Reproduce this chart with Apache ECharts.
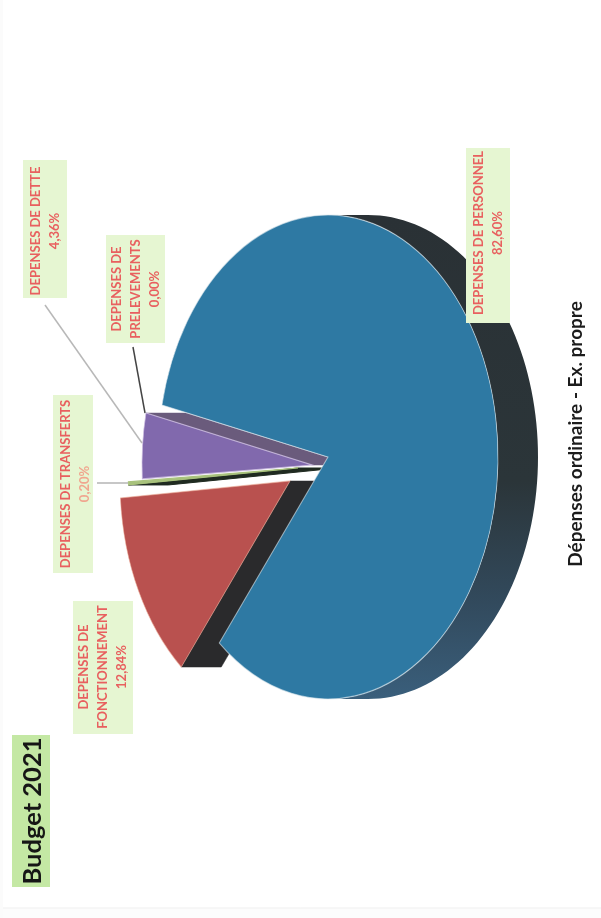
<!DOCTYPE html>
<html><head><meta charset="utf-8">
<style>html,body{margin:0;padding:0;background:#fff}#c{width:601px;height:918px}</style>
<script src="https://cdn.jsdelivr.net/npm/echarts@6/dist/echarts.min.js"></script>
</head><body><div id="c"></div>
<script>
const categories = ['DEPENSES DE PERSONNEL','DEPENSES DE FONCTIONNEMENT','DEPENSES DE TRANSFERTS','DEPENSES DE PRELEVEMENTS','DEPENSES DE DETTE'];
const percentLabels = ['82,60%','12,84%','0,20%','0,00%','4,36%'];
const values = [82.60,12.84,0.20,0.00,4.36];
const labelLines = [['DEPENSES DE PERSONNEL'],['DEPENSES DE','FONCTIONNEMENT'],['DEPENSES DE TRANSFERTS'],['DEPENSES DE','PRELEVEMENTS'],['DEPENSES DE DETTE']];
const chartTitle = 'Dépenses ordinaire - Ex. propre';
const badgeTitle = 'Budget 2021';

// style / layout
const colors = ['#2e79a3','#b9514f','#a8c27c','#6a5b7c','#8169ad'];
const wallColors = [null,'#2a2a2c','#1f2a20',null,'#6a5b7c'];
const explode = [[0,0],[-38,24],[-30,11],[-16,8],[-16,8]];
const CX=328, CY=457, RX=170, RY=242, DEPTH=40, START=192.4;
const boxes = [[466,148,44,175],[73,601,60,133],[53,395,40,178],[106,235,59,108],[23,160,44,138]];
const labelPos = [[488,233],[103,667],[75.5,484],[135.5,289],[45.5,231]];
const leaders = [[[97,483],[128,483],'#b4b4b4',1.5],[[133,347],[145,413],'#444',1.5],[[45,305],[142,443],'#b8b8b8',1.5]];

const rad=d=>d*Math.PI/180;
let cum=START;
const slices=values.map((v,i)=>{const a=cum; cum+=v*3.6; return {a,b:cum,dx:explode[i][0],dy:explode[i][1]};});

const depthFill={type:'linear',global:true,x:0,y:215,x2:0,y2:700,colorStops:[
 {offset:0,color:'#2a3135'},{offset:.55,color:'#2b3539'},{offset:.8,color:'#324a5d'},{offset:1,color:'#3a5f7c'}]};

function wallPoly(api,s,t){
  const x0=CX+s.dx,y0=CY+s.dy,ox=RX*Math.cos(rad(t)),oy=RY*Math.sin(rad(t));
  return [[x0,y0],[x0+ox,y0+oy],[x0+ox+DEPTH,y0+oy],[x0+DEPTH,y0]].map(p=>api.coord(p));
}
function renderWall(params,api){
  const i=api.value(0); const v=api.value(1); const s=slices[i];
  if(i===0){
    const pts=[];
    for(let t=270;t<=450;t+=2) pts.push(api.coord([CX+DEPTH+RX*Math.cos(rad(t)),CY+RY*Math.sin(rad(t))]));
    for(let t=450;t>=270;t-=2) pts.push(api.coord([CX+RX*Math.cos(rad(t)),CY+RY*Math.sin(rad(t))]));
    return {type:'polygon',shape:{points:pts},style:{fill:depthFill}};
  }
  if(v===0) return null;
  const t=i===4?s.b:s.a;
  return {type:'polygon',shape:{points:wallPoly(api,s,t)},
    style:{fill:wallColors[i],stroke:wallColors[i],lineWidth:i===2?1:0.5}};
}
function renderTop(params,api){
  const i=api.value(0); const v=api.value(1); const s=slices[i];
  if(v===0) return null;
  const c=api.coord([CX+s.dx,CY+s.dy]);
  return {type:'sector',x:c[0],y:c[1],scaleX:RX/100,scaleY:RY/100,z2:i===0?10:1,
    shape:{cx:0,cy:0,r:100,r0:0,startAngle:rad(s.a),endAngle:rad(s.b),clockwise:true},
    style:{fill:colors[i],stroke:i===0?'rgba(225,235,240,.6)':(i===1?'rgba(235,170,150,.6)':(i===4?'rgba(205,190,225,.8)':colors[i])),lineWidth:1,strokeNoScale:true}};
}

const seriesData=values.map((v,i)=>[i,v]);
const graphic=[];
// page edges of the scan
graphic.push({type:'rect',shape:{x:0,y:908,width:601,height:10},style:{fill:'#fcfcfc'},silent:true});
graphic.push({type:'line',shape:{x1:0,y1:908,x2:601,y2:908},style:{stroke:'#efefef',lineWidth:1},silent:true});
graphic.push({type:'rect',shape:{x:0,y:0,width:3,height:918},style:{fill:'#fbfbfb'},silent:true});
// label boxes
boxes.forEach(b=>graphic.push({type:'rect',shape:{x:b[0],y:b[1],width:b[2],height:b[3]},style:{fill:'#e6f6d2'},z:5}));
// leaders
leaders.forEach(l=>graphic.push({type:'line',shape:{x1:l[0][0],y1:l[0][1],x2:l[1][0],y2:l[1][1]},style:{stroke:l[2],lineWidth:l[3]},z:6}));
// labels
categories.forEach((c,i)=>{
  const name=labelLines[i].map(t=>'{a|'+t+'}').join('\n');
  graphic.push({type:'text',x:labelPos[i][0],y:labelPos[i][1],rotation:Math.PI/2,z:7,
    style:{text:name+'\n{'+(i===2?'c':'a')+'|'+percentLabels[i]+'}',align:'center',verticalAlign:'middle',
      rich:{a:{fill:'#e8605f',font:'bold 13px Lato',lineHeight:19,align:'center'},
            c:{fill:'#f0a68f',font:'bold 13px Lato',lineHeight:19,align:'center'}}}});
});
graphic.push({type:'text',x:576,y:434,rotation:Math.PI/2,z:7,
  style:{text:chartTitle,fill:'#1c1c1c',font:'bold 19px Lato',align:'center',verticalAlign:'middle'}});
graphic.push({type:'rect',shape:{x:12,y:735,width:38,height:152},style:{fill:'#c4e8a4'},z:5});
graphic.push({type:'text',x:33,y:811,rotation:Math.PI/2,z:7,
  style:{text:badgeTitle,fill:'#161616',font:'bold 25.5px Lato',align:'center',verticalAlign:'middle'}});

const chart=echarts.init(document.getElementById('c'),null,{renderer:'canvas'});
chart.setOption({
  animation:false,backgroundColor:'#fff',
  grid:{left:0,top:0,width:601,height:918},
  xAxis:{type:'value',min:0,max:601,show:false},
  yAxis:{type:'value',min:0,max:918,inverse:true,show:false},
  series:[
    {type:'custom',z:2,renderItem:renderWall,data:seriesData,silent:true,clip:false,encode:{x:0,y:1}},
    {type:'custom',z:3,renderItem:renderTop,data:seriesData,silent:true,clip:false,encode:{x:0,y:1}}
  ],
  graphic:graphic
});
</script></body></html>
